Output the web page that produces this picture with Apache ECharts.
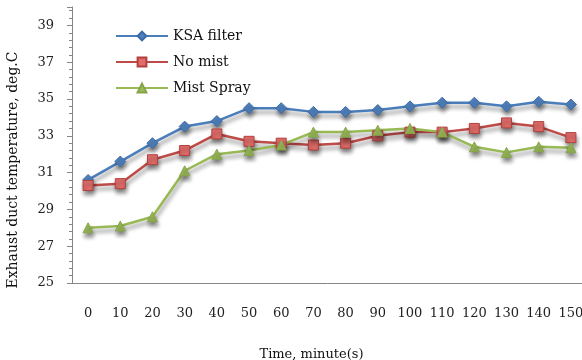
<!DOCTYPE html>
<html>
<head>
<meta charset="utf-8">
<script src="https://cdn.jsdelivr.net/npm/echarts@6/dist/echarts.min.js"></script>
<style>
  html, body { margin: 0; padding: 0; background: #fff; }
  #chart { width: 582px; height: 360px; }
</style>
</head>
<body>
<div id="chart"></div>
<script>
// Time in minutes
const timeLabels = ['0', '10', '20', '30', '40', '50', '60', '70', '80', '90', '100', '110', '120', '130', '140', '150'];
// Exhaust duct temperature, deg.C
const ksaFilter = [30.6, 31.6, 32.6, 33.5, 33.8, 34.5, 34.5, 34.3, 34.3, 34.4, 34.6, 34.8, 34.8, 34.6, 34.85, 34.7];
const noMist    = [30.3, 30.4, 31.7, 32.2, 33.1, 32.7, 32.6, 32.5, 32.6, 33.0, 33.2, 33.2, 33.4, 33.7, 33.5, 32.9];
const mistSpray = [28.0, 28.1, 28.6, 31.1, 32.0, 32.2, 32.5, 33.2, 33.2, 33.3, 33.4, 33.2, 32.4, 32.1, 32.4, 32.35];

const FONT = 'DejaVu Serif';
const shadow = { shadowColor: 'rgba(0,0,0,0.45)', shadowBlur: 4, shadowOffsetX: 1, shadowOffsetY: 4 };

function series(name, data, line, fill, border, symbol, size) {
  return {
    name, type: 'line', data, symbol, symbolSize: size,
    lineStyle: Object.assign({ color: line, width: 2.5 }, shadow),
    itemStyle: Object.assign({ color: fill, borderColor: border, borderWidth: 1 }, shadow),
    emphasis: { disabled: true },
    animation: false
  };
}

const chart = echarts.init(document.getElementById('chart'));
chart.setOption({
  animation: false,
  grid: { left: 72, top: 7, width: 515, height: 276, containLabel: false, outerBoundsMode: 'none' },
  legend: {
    orient: 'vertical', left: 110, top: 24, itemGap: 12,
    itemWidth: 52, itemHeight: 11,
    textStyle: { fontFamily: FONT, fontSize: 14, color: '#111' },
    data: ['KSA filter', 'No mist', 'Mist Spray']
  },
  xAxis: {
    type: 'category', data: timeLabels, boundaryGap: true,
    name: 'Time, minute(s)', nameLocation: 'middle', nameGap: 65,
    nameTextStyle: { fontFamily: FONT, fontSize: 13, color: '#111', padding: [0, 36, 0, 0] },
    axisLine: { lineStyle: { color: '#868686', width: 1 } },
    axisTick: { length: 5, lineStyle: { color: '#868686' } },
    axisLabel: { interval: 0, margin: 24, fontFamily: FONT, fontSize: 13, color: '#222' },
    splitLine: { show: false }
  },
  yAxis: {
    type: 'value', min: 25, max: 40, interval: 2,
    name: 'Exhaust duct temperature, deg.C', nameLocation: 'middle', nameGap: 52,
    nameTextStyle: { fontFamily: FONT, fontSize: 14, color: '#111', padding: [0, 50, 0, 0] },
    axisLine: { show: true, lineStyle: { color: '#868686', width: 1 } },
    axisTick: { show: true, length: 5, lineStyle: { color: '#868686' } },
    minorTick: { show: true, splitNumber: 5, length: 3, lineStyle: { color: '#868686' } },
    axisLabel: { margin: 18, fontFamily: FONT, fontSize: 13, color: '#222', showMaxLabel: false },
    splitLine: { show: false }
  },
  series: [
    series('KSA filter', ksaFilter, '#4A7EBB', '#4F81BD', '#3D6AA5', 'diamond', 11),
    series('No mist', noMist, '#BE4B48', '#E06D6A', '#B3403D', 'rect', 10),
    series('Mist Spray', mistSpray, '#98B954', '#9BBB59', '#86A549', 'triangle', 10)
  ]
});
</script>
</body>
</html>
